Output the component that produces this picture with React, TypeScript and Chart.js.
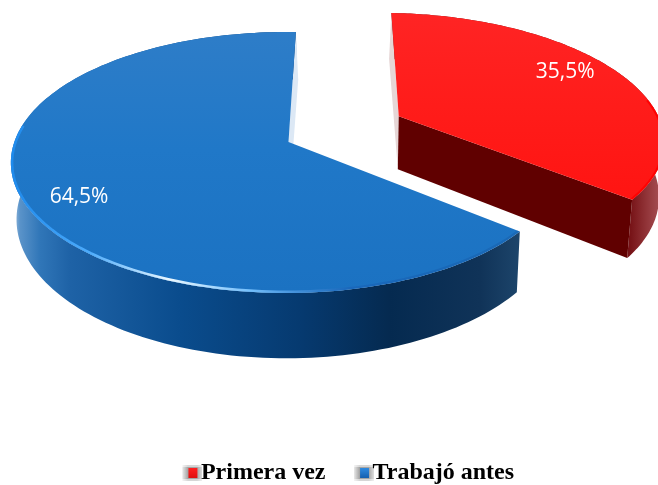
import React, { useEffect, useRef } from "react";
import { Chart, registerables } from "chart.js";

Chart.register(...registerables);

const categories = ["Primera vez", "Trabajó antes"];
const shares = [35.5, 64.5];
const shareLabels = ["35,5%", "64,5%"];
const startRotation = 1.8;

// Look of the tilted pie (style only; the angles come from the chart's arc elements)
const VIEW = { x0: 288.5, y0: 142, a: 272, b: 127.3, p: 0.157, q: 0.008, depth: 55, vx: 345, k: 0.017 };
const EXPLODE = [[0.42, -0.21], [0, 0]];
const LABEL_RADIUS = 0.8;
const LABEL_NUDGE = [[-9, -7], [1, 11]];
const LEGEND_TOP = 427;

const TOP_STOPS = [
  [[0, "#ff2424"], [0.5, "#ff1c1a"], [1, "#ff1412"]],
  [[0, "#2e7dc8"], [0.45, "#2078c8"], [1, "#1b72c2"]],
];
const WALL_STOPS = [
  [[630, "#761216"], [645, "#8f3135"], [660, "#a64e53"]],
  [[12, "#a9c6e2"], [20, "#5a93c9"], [40, "#3076b8"], [70, "#1e62a6"], [180, "#0a4c8d"], [300, "#063a70"], [390, "#052a50"], [480, "#103358"], [520, "#1d456b"]],
];
const CUT_COLORS = [
  ["#e6d6d6", "#600000"],
  ["#dce8f5", "#0a4c8d"],
];

function project(u: number, v: number, h = 0) {
  const s = 1 / (1 - VIEW.p * v + VIEW.q * u);
  let x = VIEW.x0 + VIEW.a * u * s;
  let y = VIEW.y0 + VIEW.b * v * s;
  if (h) {
    x += (VIEW.vx - x) * VIEW.k * h;
    y += VIEW.depth * s * h;
  }
  return [x, y];
}

function poly(ctx: CanvasRenderingContext2D, pts: number[][]) {
  ctx.beginPath();
  pts.forEach((p, i) => (i ? ctx.lineTo(p[0], p[1]) : ctx.moveTo(p[0], p[1])));
  ctx.closePath();
}

function hGrad(ctx: CanvasRenderingContext2D, stops: any[]) {
  const x0 = stops[0][0];
  const x1 = stops[stops.length - 1][0];
  const g = ctx.createLinearGradient(x0, 0, x1, 0);
  stops.forEach((s: any) => g.addColorStop((s[0] - x0) / (x1 - x0), s[1]));
  return g;
}

function drawSlice(ctx: CanvasRenderingContext2D, el: any, i: number) {
  const { startAngle, endAngle } = el;
  const mid = (startAngle + endAngle) / 2;
  const cu = EXPLODE[i][0];
  const cv = EXPLODE[i][1];
  const n = 160;
  const top: number[][] = [];
  const bottom: number[][] = [];
  for (let j = 0; j <= n; j++) {
    const a = startAngle + ((endAngle - startAngle) * j) / n;
    top.push(project(cu + Math.cos(a), cv + Math.sin(a)));
    bottom.push(project(cu + Math.cos(a), cv + Math.sin(a), 1));
  }
  const apex = project(cu, cv);
  const apexB = project(cu, cv, 1);

  // outer wall
  poly(ctx, [...top, ...bottom.slice().reverse()]);
  ctx.fillStyle = hGrad(ctx, WALL_STOPS[i]);
  ctx.fill();

  // thin lit wall on the slice's starting side
  const first = top[0];
  const firstB = bottom[0];
  const side = i === 0 ? -1.5 : 1.5;
  poly(ctx, i === 1
    ? [top[n], apex, apexB, [bottom[n][0] + side, bottom[n][1]]]
    : [first, apex, apexB, [firstB[0] + side, firstB[1]]]);
  ctx.fillStyle = CUT_COLORS[i][0];
  ctx.fill();

  // dark cut wall facing the viewer
  if (i === 0) {
    poly(ctx, [apex, top[n], bottom[n], apexB]);
    ctx.fillStyle = CUT_COLORS[i][1];
    ctx.fill();
  }

  // top face
  poly(ctx, [apex, ...top]);
  const ys = top.map((p) => p[1]);
  const g = ctx.createLinearGradient(0, Math.min(...ys), 0, Math.max(...ys));
  TOP_STOPS[i].forEach((s: any) => g.addColorStop(s[0], s[1]));
  ctx.fillStyle = g;
  ctx.fill();

  // rim highlight on the lower edge
  const rim = top.filter((_, j) => {
    const a = startAngle + ((endAngle - startAngle) * j) / n;
    return Math.sin(a) > -0.15;
  });
  ctx.save();
  poly(ctx, [apex, ...top]);
  ctx.clip();
  ctx.beginPath();
  rim.forEach((p, j) => (j ? ctx.lineTo(p[0], p[1]) : ctx.moveTo(p[0], p[1])));
  if (i === 1) {
    ctx.strokeStyle = hGrad(ctx, [
      [11, "rgba(30,140,240,0.9)"],
      [90, "rgba(80,175,255,0.95)"],
      [170, "rgba(235,248,255,1)"],
      [250, "rgba(120,195,255,0.95)"],
      [350, "rgba(25,100,185,0.7)"],
      [521, "rgba(20,90,165,0.4)"],
    ]);
    ctx.lineWidth = 5;
  } else {
    ctx.strokeStyle = "rgba(255,0,0,0.9)";
    ctx.lineWidth = 4;
  }
  ctx.stroke();
  ctx.restore();

  // percentage label
  const lu = cu + LABEL_RADIUS * Math.cos(mid);
  const lv = cv + LABEL_RADIUS * Math.sin(mid);
  const lp = project(lu, lv);
  ctx.fillStyle = "#ffffff";
  ctx.font = "21px 'Open Sans'";
  ctx.textAlign = "center";
  ctx.textBaseline = "middle";
  ctx.fillText(shareLabels[i], lp[0] + LABEL_NUDGE[i][0], lp[1] + LABEL_NUDGE[i][1]);
}

const pie3d = {
  id: "pie3d",
  afterLayout(chart: any) {
    chart.legend.top = LEGEND_TOP;
  },
  beforeDatasetDraw(chart: any) {
    const ctx = chart.ctx;
    const arcs = chart.getDatasetMeta(0).data;
    ctx.save();
    arcs.forEach((el: any, i: number) => drawSlice(ctx, el, i));
    ctx.restore();
    return false;
  },
};

function makeIcon(color: string, light: string) {
  const c = document.createElement("canvas");
  c.width = 28;
  c.height = 18;
  const x = c.getContext("2d")!;
  const ox = 8;
  const g = x.createLinearGradient(ox, 0, ox + 20, 0);
  g.addColorStop(0, "#e8e8e8");
  g.addColorStop(0.28, "#a4a4a4");
  g.addColorStop(0.72, "#a4a4a4");
  g.addColorStop(1, "#e0e0e0");
  x.fillStyle = g;
  x.fillRect(ox, 1, 20, 16);
  x.fillStyle = "rgba(255,255,255,0.55)";
  x.fillRect(ox, 1, 20, 2);
  x.fillRect(ox, 15, 20, 2);
  const f = x.createLinearGradient(0, 4, 0, 14);
  f.addColorStop(0, light);
  f.addColorStop(1, color);
  x.fillStyle = f;
  x.fillRect(ox + 6, 4, 9, 10);
  return c;
}

export default function App() {
  const ref = useRef<HTMLCanvasElement | null>(null);
  useEffect(() => {
    const icons = [makeIcon("#e01010", "#ff2020"), makeIcon("#1560b0", "#2f8ae0")];
    const chart = new Chart(ref.current!, {
      type: "pie",
      data: {
        labels: categories,
        datasets: [{ data: shares, backgroundColor: ["#ff1a1a", "#1f76c6"], borderWidth: 0 }],
      },
      options: {
        responsive: false,
        animation: false,
        rotation: startRotation,
        layout: { padding: { left: 44 } },
        plugins: {
          tooltip: { enabled: false },
          legend: {
            position: "bottom",
            onClick: () => {},
            labels: {
              usePointStyle: true,
              pointStyleWidth: 1,
              padding: 34,
              color: "#000000",
              font: { family: "'Liberation Serif'", size: 24, weight: "bold" },
              generateLabels: (c: any) =>
                (Chart as any).overrides.doughnut.plugins.legend.labels
                  .generateLabels(c)
                  .map((l: any, i: number) => ({ ...l, pointStyle: icons[i] })),
            },
          },
        },
      } as any,
      plugins: [pie3d as any],
    });
    return () => chart.destroy();
  }, []);
  return (
    <div style={{ position: "absolute", left: 0, top: 0, width: 658, height: 485, overflow: "hidden", background: "#fff" }}>
      <canvas ref={ref} width={658} height={485} style={{ display: "block" }} />
    </div>
  );
}
